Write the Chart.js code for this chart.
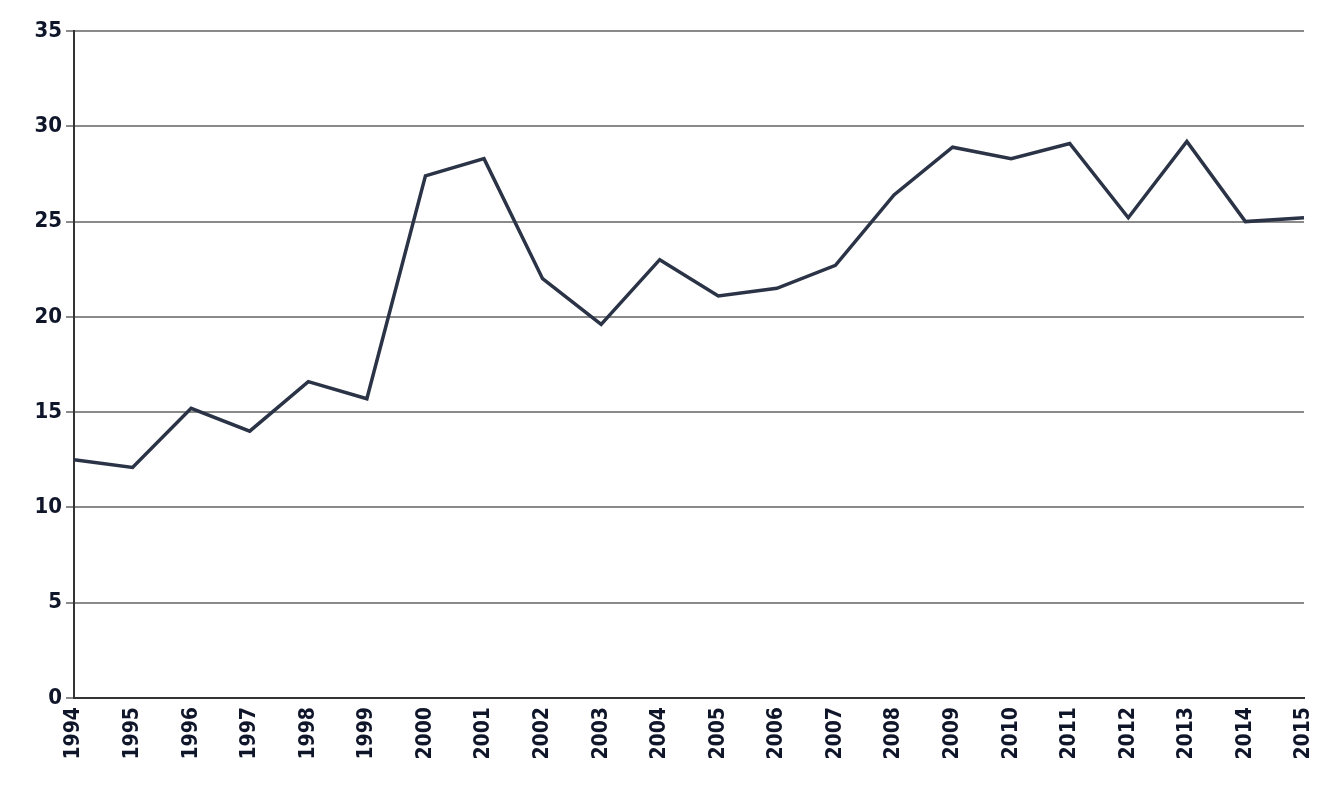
<!DOCTYPE html>
<html><head><meta charset="utf-8">
<script src="https://cdn.jsdelivr.net/npm/chart.js@4"></script>
<style>html,body{margin:0;padding:0;background:#fff}#w{width:1342px;height:800px}</style>
</head><body><div id="w"><canvas id="c"></canvas></div>
<script>
const years = ["1994","1995","1996","1997","1998","1999","2000","2001","2002","2003","2004","2005","2006","2007","2008","2009","2010","2011","2012","2013","2014","2015"];
const values = [12.5,12.1,15.2,14.0,16.6,15.7,27.4,28.3,22.0,19.6,23.0,21.1,21.5,22.7,26.4,28.9,28.3,29.1,25.2,29.2,25.0,25.2];
const yTicks = [0,5,10,15,20,25,30,35];
new Chart(document.getElementById('c'), {
  type: 'line',
  data: { labels: years, datasets: [{ data: values, borderColor: '#2b3346', borderWidth: 3.5, pointRadius: 0, tension: 0, fill: false }] },
  options: {
    responsive: true, maintainAspectRatio: false, animation: false,
    layout: { padding: { top: 31, right: 38, left: 0, bottom: 0 } },
    plugins: { legend: { display: false }, tooltip: { enabled: false } },
    scales: {
      x: { offset: false,
        grid: { display: false, drawTicks: true, tickLength: 6, color: '#333' },
        border: { display: true, color: '#333', width: 2 },
        ticks: { autoSkip: false, minRotation: 90, maxRotation: 90, color: '#10162a', font: { family: 'DejaVu Sans Condensed, DejaVu Sans', size: 21, weight: 'bold' } },
        afterFit(s) { s.height = 102; } },
      y: { min: 0, max: 35, afterBuildTicks(s) { s.ticks = yTicks.map(v => ({ value: v })); },
        grid: { color: '#8a8a8a', lineWidth: 2, drawTicks: true, tickLength: 8 },
        border: { display: true, color: '#333', width: 2 },
        ticks: { color: '#10162a', padding: 4, font: { family: 'DejaVu Sans Condensed, DejaVu Sans', size: 22, weight: 'bold' } },
        afterFit(s) { s.width = 74; } }
    }
  }
});
</script></body></html>
